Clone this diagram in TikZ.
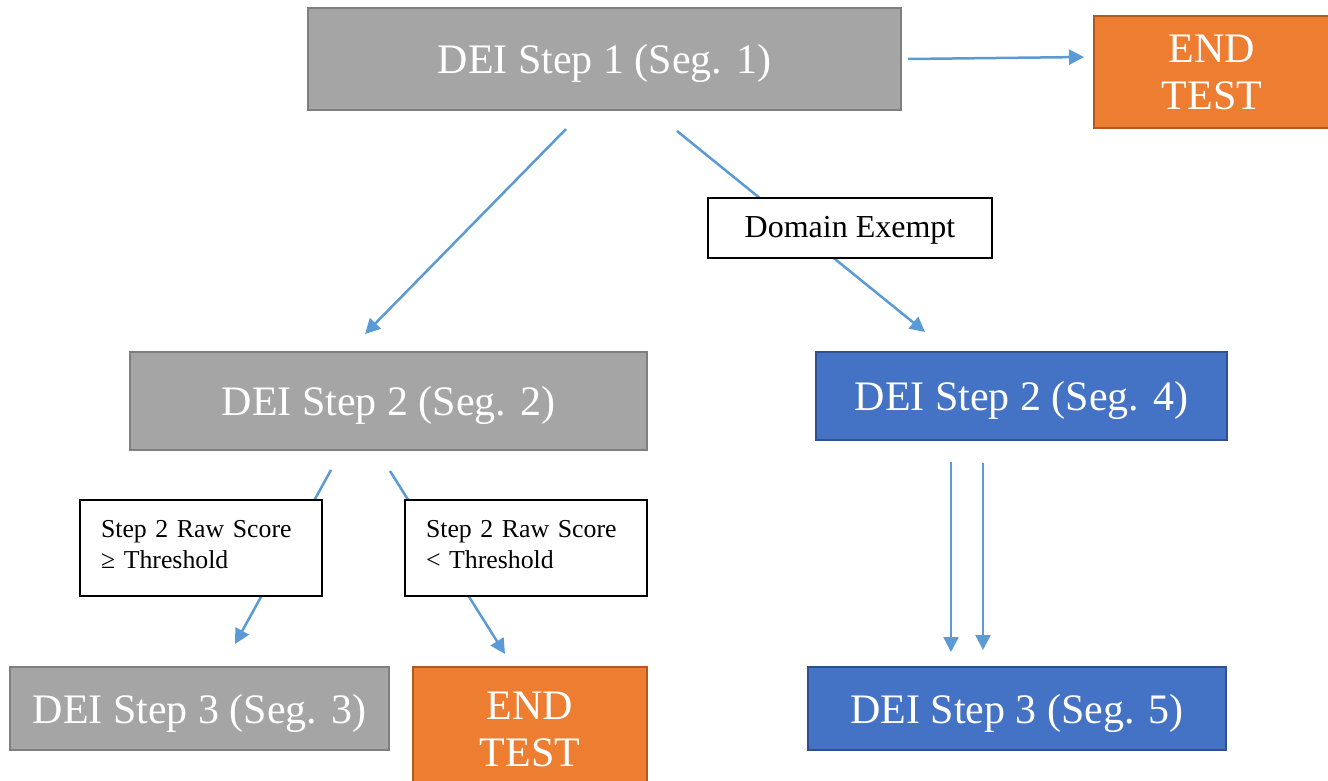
\documentclass[tikz,border=0pt]{standalone}
\usepackage{fontspec}
\setmainfont{Liberation Serif}
\usetikzlibrary{arrows.meta}
\definecolor{grayfill}{HTML}{A5A5A5}
\definecolor{graydraw}{HTML}{7F7F7F}
\definecolor{orangefill}{HTML}{ED7D31}
\definecolor{orangedraw}{HTML}{AE5A21}
\definecolor{bluefill}{HTML}{4472C4}
\definecolor{bluedraw}{HTML}{2F528F}
\definecolor{arrowblue}{HTML}{5B9BD5}
\tikzset{
  bigbox/.style={rectangle, line width=2pt, text=white, inner sep=0pt, align=center,
    text depth=0pt, font=\fontsize{42}{47}\selectfont},
  graybox/.style={bigbox, fill=grayfill, draw=graydraw},
  orangebox/.style={bigbox, fill=orangefill, draw=orangedraw},
  bluebox/.style={bigbox, fill=bluefill, draw=bluedraw},
  labbox/.style={rectangle, draw=black, fill=white, line width=1.5pt, inner xsep=21pt, inner ysep=0pt,
    text width=200pt, align=left, minimum width=242pt, minimum height=96pt,
    font=\fontsize{25.8}{31}\selectfont},
  dombox/.style={rectangle, draw=black, fill=white, line width=1.5pt, inner sep=0pt,
    minimum width=284pt, minimum height=60pt, text depth=2pt, font=\fontsize{32}{36}\selectfont},
  arr/.style={draw=arrowblue, line width=2.5pt, -{Triangle[length=15pt,width=15pt]}, arrowblue},
}
\newcommand{\lowpad}{\rule[-8pt]{0pt}{8pt}}
\begin{document}
\begin{tikzpicture}[x=1pt,y=-1pt]
\clip (0,0) rectangle (1328,780);
\fill[white] (0,0) rectangle (1328,780);

\node[graybox, minimum width=593pt, minimum height=102pt] (box1) at (604.5,59) {DEI Step 1 (Seg. 1)};
\node[orangebox, minimum width=236pt, minimum height=112pt] (end1) at (1212,72) {END\\TEST};
\node[graybox, minimum width=517pt, minimum height=98pt] (box2) at (388.5,401) {DEI Step 2 (Seg. 2)};
\node[bluebox, minimum width=411pt, minimum height=88pt] (box4) at (1021.5,396) {DEI Step 2 (Seg. 4)};
\node[graybox, minimum width=379pt, minimum height=83pt] (box3) at (199.5,708.5) {DEI Step 3 (Seg. 3)};
\node[orangebox, minimum width=234pt, minimum height=124pt] (end2) at (530,729) {END\\TEST};
\node[bluebox, minimum width=418pt, minimum height=83pt] (box5) at (1017,708.5) {DEI Step 3 (Seg. 5)};

% connectors
\draw[arr] ([xshift=6pt,yshift=0pt]box1.east) -- ([xshift=-9pt,yshift=15pt]end1.west);
\draw[arr] ([xshift=-38.5pt,yshift=-18pt]box1.south) -- ([xshift=-23.5pt,yshift=17pt]box2.north);
\draw[arr] ([xshift=72.5pt,yshift=-20pt]box1.south) -- ([xshift=-96.5pt,yshift=19pt]box4.north);
\draw[arr] ([xshift=-57.5pt,yshift=-19pt]box2.south) -- ([xshift=35.5pt,yshift=22pt]box3.north);
\draw[arr] ([xshift=1.5pt,yshift=-20pt]box2.south) -- ([xshift=-25pt,yshift=12pt]end2.north);
\draw[arr] ([xshift=-70.5pt,yshift=-21pt]box4.south) -- ([xshift=-66pt,yshift=14pt]box5.north);
\draw[arr] ([xshift=-38.5pt,yshift=-22pt]box4.south) -- ([xshift=-34pt,yshift=16pt]box5.north);

% labels over the connectors
\node[dombox] (dom) at (850,228) {Domain Exempt};
\node[labbox] (lab1) at (201,548) {Step 2 Raw Score\\≥ Threshold\lowpad};
\node[labbox] (lab2) at (526,548) {Step 2 Raw Score\\< Threshold\lowpad};
\end{tikzpicture}
\end{document}
